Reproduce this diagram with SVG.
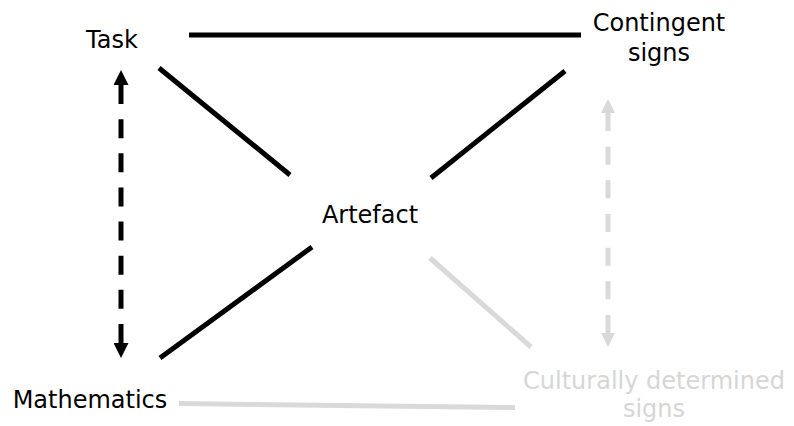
<svg xmlns="http://www.w3.org/2000/svg" width="794" height="426" viewBox="0 0 794 426">
  <style>
    .lbl { font-family: "DejaVu Sans", "Liberation Sans", sans-serif; font-size: 24px; text-anchor: middle; }
    .dark { fill: #000000; }
    .light { fill: #d6d6d6; }
    .solid { stroke: #000000; stroke-width: 5; fill: none; }
    .faint { stroke: #d9d9d9; stroke-width: 5; fill: none; }
  </style>
  <defs>
    <marker id="headBlack" viewBox="0 0 10 10" refX="0" refY="5" markerWidth="15" markerHeight="15" markerUnits="userSpaceOnUse" orient="auto-start-reverse">
      <path d="M0,0 L10,5 L0,10 z" fill="#000000"/>
    </marker>
    <marker id="headGray" viewBox="0 0 10 10" refX="0" refY="5" markerWidth="14" markerHeight="15" markerUnits="userSpaceOnUse" orient="auto-start-reverse">
      <path d="M0,0 L10,5 L0,10 z" fill="#d9d9d9"/>
    </marker>
  </defs>

  <g id="connectors">
    <line class="solid" x1="189" y1="35" x2="581" y2="35" stroke-width="6"/>
    <line class="solid" x1="159" y1="68" x2="290" y2="175"/>
    <line class="solid" x1="565" y1="71" x2="431" y2="178"/>
    <line class="solid" x1="160" y1="358" x2="312" y2="247"/>
    <line class="faint" x1="430" y1="258" x2="531" y2="347"/>
    <line class="faint" x1="179" y1="403.5" x2="515" y2="407.5" stroke-width="6.5"/>
    <line class="solid" x1="121" y1="85" x2="121" y2="343" stroke-width="4.5" stroke-dasharray="19 15.14" marker-start="url(#headBlack)" marker-end="url(#headBlack)"/>
    <line class="faint" x1="608" y1="113" x2="608" y2="333" stroke-width="4.5" stroke-dasharray="18 15.67" marker-start="url(#headGray)" marker-end="url(#headGray)"/>
  </g>

  <g id="task">
    <text class="lbl dark" x="112" y="48">Task</text>
  </g>
  <g id="contingent-signs">
    <text class="lbl dark" x="659" y="31">Contingent</text>
    <text class="lbl dark" x="659" y="61">signs</text>
  </g>
  <g id="artefact">
    <text class="lbl dark" x="370" y="223">Artefact</text>
  </g>
  <g id="mathematics">
    <text class="lbl dark" x="90" y="408">Mathematics</text>
  </g>
  <g id="culturally-determined-signs">
    <text class="lbl light" x="654" y="389">Culturally determined</text>
    <text class="lbl light" x="654" y="417">signs</text>
  </g>
</svg>
